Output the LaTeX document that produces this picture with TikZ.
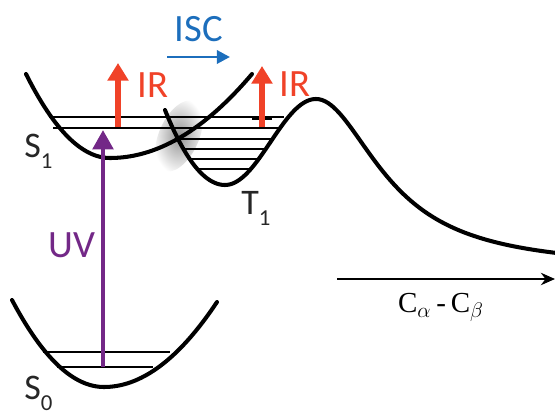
\documentclass[tikz,border=0pt]{standalone}
\usepackage{fontspec}
\setmainfont{Carlito}
\newfontfamily\axisfont{Liberation Serif}
\usetikzlibrary{arrows.meta}
\definecolor{irred}{RGB}{240,66,40}
\definecolor{iscblue}{RGB}{28,110,188}
\definecolor{uvpurple}{RGB}{115,40,135}
\newcommand{\lowsub}[1]{\raisebox{-0.62ex}{\fontsize{13}{14}\selectfont #1}}

\begin{document}
\begin{tikzpicture}[x=0.02cm, y=-0.02cm,
    curve/.style={line width=2.3pt, line cap=round, line join=round},
    level/.style={line width=0.8pt},
    tick/.style={line width=1.6pt},
    label/.style={font=\fontsize{22}{24}\selectfont, inner sep=0pt},
    state/.style={font=\fontsize{20.5}{22}\selectfont, inner sep=0pt}]
    \useasboundingbox (0,0) rectangle (555,415);

    % shadow where S1 and T1 cross
    \begin{scope}[shift={(179,136)}, rotate=66]
        \shade[inner color=gray!85, outer color=white] (0,0) ellipse (38 and 20);
    \end{scope}

    % vibrational levels
    \draw[level] (49,117) -- (284,117);
    \draw[level] (53,128) -- (280,128);
    \draw[level] (179,139) -- (273,139);
    \draw[level] (184,149) -- (267,149);
    \draw[level] (190,159) -- (261,159);
    \draw[level] (199,169) -- (252,169);
    \draw[level] (43,352) -- (170,352);
    \draw[level] (57,367) -- (153,367);
    \draw[tick] (110,117) -- (130,117);
    \draw[tick] (252,119) -- (272,119);

    % potential curves
    \draw[curve] plot[domain=26:110, samples=40] (\x,{158-84*((\x-110)/84)^2})
        -- plot[domain=110:252, samples=50] (\x,{158-84*((\x-110)/142)^2});
    \draw[curve] plot[domain=165:225, samples=40] (\x,{185-75*((\x-225)/60)^2})
        -- plot[domain=225:316, samples=50] (\x,{142+43*cos(180*(\x-225)/91)})
        -- plot[domain=316:555, samples=80] (\x,{99+170*(1-1/(1+((\x-316)/77.6)^2))});
    \draw[curve] plot[domain=12:104, samples=40] (\x,{387-87*((\x-104)/92)^2})
        -- plot[domain=104:217, samples=40] (\x,{387-85*((\x-104)/113)^2});

    % transitions
    \coordinate (uv base) at (103,367);
    \coordinate (uv tip) at (103,130);
    \coordinate (ir base left) at (118,127);
    \coordinate (ir tip left) at (118,63);
    \coordinate (ir base right) at (262,127);
    \coordinate (ir tip right) at (262,66);
    \coordinate (isc start) at (167,57);
    \coordinate (isc end) at (230,57);
    \draw[uvpurple, line width=2.6pt, -{Triangle[width=11.5pt,length=11pt]}] (uv base) -- (uv tip);
    \draw[irred, line width=3.3pt, -{Triangle[width=11.5pt,length=10pt]}] (ir base left) -- (ir tip left);
    \draw[irred, line width=3.3pt, -{Triangle[width=11.5pt,length=10pt]}] (ir base right) -- (ir tip right);
    \draw[iscblue, line width=1.7pt, -{Triangle[width=7.5pt,length=7.5pt]}] (isc start) -- (isc end);

    % reaction coordinate
    \coordinate (axis start) at (337,279);
    \coordinate (axis end) at (555,279);
    \draw[line width=1.7pt, -{Stealth[width=7pt,length=8pt]}] (axis start) -- (axis end);

    % labels
    \node[label, anchor=base, text=iscblue] (isc) at (199,42) {ISC};
    \node[label, anchor=base west, text=irred] (ir left) at (137,98) {IR};
    \node[label, anchor=base west, text=irred] (ir right) at (279,97) {IR};
    \node[label, anchor=base, text=uvpurple] (uv) at (72,258) {UV};
    \node[state, anchor=base west, text=black!85] (s one) at (24,158) {S\lowsub{1}};
    \node[state, anchor=base west, text=black!85] (s zero) at (24,400) {S\lowsub{0}};
    \node[state, anchor=base west, text=black!85] (t one) at (241,215) {T\lowsub{1}};
    \node[anchor=base, inner sep=0pt, font=\axisfont\fontsize{16.5}{18}\selectfont] (coord) at (441,313) {C$_\alpha$\,-\,C$_\beta$};
\end{tikzpicture}
\end{document}
